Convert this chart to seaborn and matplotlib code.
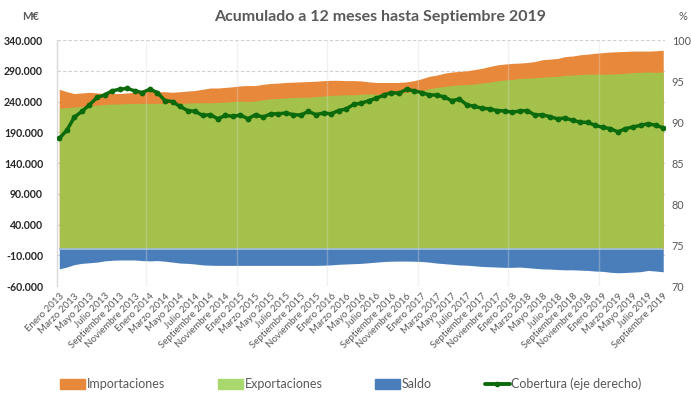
import numpy as np
import seaborn as sns
import matplotlib.pyplot as plt
from matplotlib.patches import Patch
from matplotlib.lines import Line2D
from matplotlib.ticker import FixedLocator, MultipleLocator, FuncFormatter

sns.set_theme(style="white")
plt.rcParams['font.family'] = ['Lato', 'DejaVu Sans']

# meses: Enero 2013 .. Septiembre 2019
nombres = ["Enero", "Febrero", "Marzo", "Abril", "Mayo", "Junio", "Julio",
           "Agosto", "Septiembre", "Octubre", "Noviembre", "Diciembre"]
anios = [2013, 2014, 2015, 2016, 2017, 2018, 2019]
meses = [f"{m} {a}" for a in anios for m in nombres][:81]

# miles de M€ (acumulado 12 meses)
importaciones = [260, 256, 253, 254, 255, 254, 253, 253, 253, 254,
                 255, 256, 257, 256, 256, 255, 256, 257, 258, 260,
                 262, 262, 263, 264, 265.5, 266, 266, 268, 269.5, 270,
                 271, 271.5, 272, 272.5, 273, 274, 274.5, 274.5, 274, 274,
                 273.5, 272, 271, 271, 271, 271, 272, 274, 277, 281,
                 283, 286, 288, 289, 290, 292, 294, 297, 299.5, 301,
                 302, 302.5, 303.5, 305, 308, 309, 310, 313, 314, 316,
                 317, 318.5, 319.5, 320.5, 321, 321.5, 322, 322, 322, 322.5,
                 323.5]
exportaciones = [229, 230, 231, 232, 233, 234, 235, 236, 236, 236.5,
                 237, 237, 237, 237, 237, 236.5, 237, 237.5, 238, 238,
                 238, 238.5, 239, 240, 241, 240, 241, 243, 244.5, 245,
                 246, 246.5, 247, 247, 248, 249, 250, 250.5, 251, 251,
                 252, 252.5, 252, 252, 253, 253.5, 255, 256, 258, 261,
                 263, 264.5, 266, 267, 267.5, 268.5, 270, 271.5, 273.5, 275,
                 276, 277.5, 278, 278.5, 279.5, 280.5, 281, 282.5, 283, 284,
                 284.5, 284.5, 284.5, 284.7, 285, 286, 287, 287.5, 288, 287.5,
                 288]
saldo = [-32, -29, -25, -23, -22, -21, -19, -18, -17.5, -17.5,
         -17.5, -18.5, -19, -18.5, -19.5, -21, -22.5, -23, -24, -25.5,
         -26, -26.3, -26.3, -26.3, -26.3, -26.3, -26.3, -26.3, -26.3, -26.3,
         -26.3, -26.3, -26.3, -26.3, -26.3, -26, -25.5, -24.5, -24, -23.5,
         -23, -22, -21, -20, -19.5, -19.3, -19.3, -19.5, -20, -21,
         -22.5, -23.5, -24.5, -25.5, -26, -27, -28, -28.5, -29, -29.5,
         -29.5, -29, -30, -31, -32, -32.3, -33, -33.5, -33.5, -34,
         -34.5, -35.5, -36, -37.5, -38.3, -37.8, -37.2, -36.5, -34.5, -35.5,
         -36.7]
# cobertura (%)
cobertura = [88.0, 89.0, 90.6, 91.3, 92.1, 93.0, 93.3, 93.8, 94.0, 94.1,
             93.8, 93.6, 94.0, 93.6, 92.6, 92.5, 91.9, 91.4, 91.3, 90.8,
             90.9, 90.4, 90.8, 90.7, 90.85, 90.4, 90.9, 90.6, 91.0, 91.0,
             91.1, 90.9, 90.85, 91.3, 90.9, 91.1, 91.0, 91.4, 91.6, 92.15,
             92.3, 92.6, 92.9, 93.3, 93.6, 93.5, 94.0, 93.8, 93.6, 93.3,
             93.3, 93.05, 92.6, 92.8, 92.1, 91.9, 91.7, 91.6, 91.4, 91.35,
             91.2, 91.35, 91.4, 90.85, 90.9, 90.65, 90.4, 90.5, 90.2, 90.0,
             89.95, 89.6, 89.35, 89.2, 88.8, 89.2, 89.4, 89.6, 89.8, 89.6,
             89.3]

c_imp = "#E8883A"
c_exp = "#A4C24B"
c_sal = "#4A7EBB"
c_cob = "#0B6A0B"
gris = "#595959"

x = np.arange(len(meses))

fig = plt.figure(figsize=(6.91, 4.03), dpi=100)
ax = fig.add_axes([0.0825, 0.290, 0.8795, 0.6107])

ax.fill_between(x, 0, importaciones, color=c_imp, lw=0, zorder=1)
ax.fill_between(x, 0, exportaciones, color=c_exp, lw=0, zorder=2)
ax.fill_between(x, 0, saldo, color=c_sal, lw=0, zorder=2)
ax.hlines(0, x[0], x[-1], color="#9DBCE3", lw=1.2, zorder=2.2)

ax.set_xlim(-0.3, 80.2)
ax.set_ylim(-60, 340)
ax.yaxis.set_major_locator(FixedLocator(np.arange(-60, 341, 50)))
ax.yaxis.set_major_formatter(FuncFormatter(lambda v, p: f"{v * 1000:,.0f}".replace(",", ".")))
ax.tick_params(axis='y', length=0, pad=10, labelsize=7.6, labelcolor="#262626")
for t in ax.get_yticklabels():
    t.set_fontweight("bold")

ax.set_xticks(x[::2])
ax.set_xticklabels(meses[::2], rotation=45, ha="right", rotation_mode="anchor")
ax.xaxis.set_minor_locator(MultipleLocator(12, offset=11.5))
ax.tick_params(axis='x', which='both', length=0, pad=4, labelsize=7, labelcolor=gris)

ax.set_axisbelow(True)
ax.grid(axis='y', color="#D0D0D0", ls=(0, (3, 2)), lw=0.8)
ax.grid(axis='x', which='minor', color="#D9D9D9", lw=1.0, alpha=0.35)
ax.grid(axis='x', which='major', visible=False)
ax.xaxis.set_zorder(3)

for s in ["top", "right", "bottom"]:
    ax.spines[s].set_visible(False)
ax.spines["left"].set_color("#D9D9D9")
ax.spines["left"].set_linewidth(1.0)

ax2 = ax.twinx()
sns.lineplot(x=x, y=cobertura, ax=ax2, color=c_cob, lw=2.5, marker="o",
             markersize=4.2, markeredgewidth=0)
ax2.set_ylim(70, 100)
ax2.set_yticks(np.arange(70, 101, 5))
ax2.tick_params(axis='y', length=0, pad=5, labelsize=7.8, labelcolor=gris)
for s in ax2.spines.values():
    s.set_visible(False)

fig.text(0.55, 0.958, "Acumulado a 12 meses hasta Septiembre 2019", ha="center",
         va="center", fontsize=11.5, fontweight="bold", color=gris)
fig.text(0.045, 0.958, "M€", ha="center", va="center", fontsize=8,
         fontweight="bold", color=gris)
fig.text(0.988, 0.958, "%", ha="center", va="center", fontsize=8, color=gris)

handles = [Patch(color=c_imp), Patch(color="#A9D86E"), Patch(color=c_sal),
           Line2D([0], [0], color=c_cob, lw=2.8, marker="o", markersize=3)]
labels = ["Importaciones", "Exportaciones", "Saldo", "Cobertura (eje derecho)"]
fig.legend(handles, labels, loc="center", bbox_to_anchor=(0.508, 0.047), ncol=4,
           frameon=False, columnspacing=4.2, handlelength=2.0, handletextpad=0.15,
           fontsize=9, labelcolor=gris, handleheight=0.8)

fig.savefig("out.png", dpi=100)
